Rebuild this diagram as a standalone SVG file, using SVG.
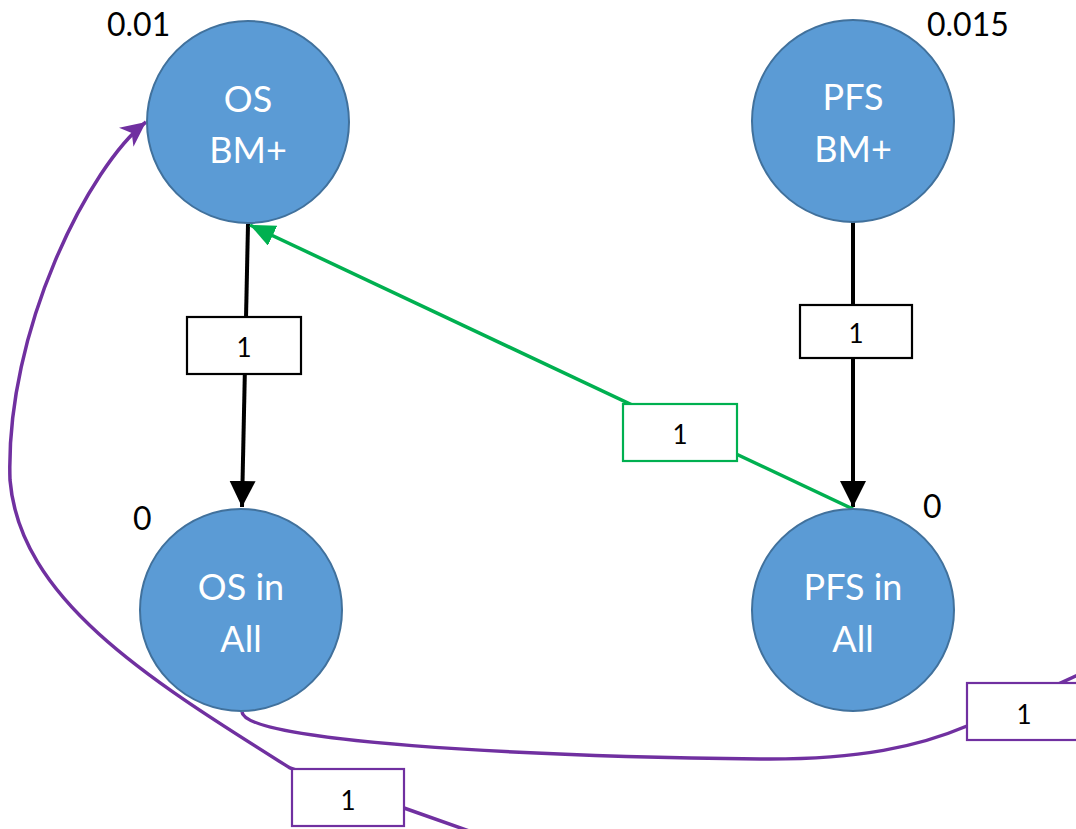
<svg xmlns="http://www.w3.org/2000/svg" width="1076" height="829" viewBox="0 0 1076 829">
<defs>
<style>
.node{fill:#5B9BD5;stroke:#41719C;stroke-width:2}
.nt{font-family:Lato,"Open Sans","Liberation Sans",sans-serif;font-size:36px;fill:#ffffff;text-anchor:middle}
.val{font-family:Lato,"Open Sans","Liberation Sans",sans-serif;font-size:32px;fill:#000000}
.lbl{font-family:Lato,"Open Sans","Liberation Sans",sans-serif;font-size:26px;fill:#000000;text-anchor:middle}
.box{fill:#ffffff;stroke-width:2.2}
.blk{stroke:#000000;stroke-width:4;fill:none}
.grn{stroke:#00B050;stroke-width:3.5;fill:none}
.pur{stroke:#7030A0;stroke-width:3.5;fill:none}
</style>
<marker id="ab" markerUnits="userSpaceOnUse" markerWidth="27" markerHeight="27" refX="26" refY="13" orient="auto">
<path d="M0,0 L26,13 L0,26 z" fill="#000000"/>
</marker>
<marker id="ag" markerUnits="userSpaceOnUse" markerWidth="26" markerHeight="24" refX="25" refY="11" orient="auto">
<path d="M0,0 L25,11 L0,22 z" fill="#00B050"/>
</marker>
<marker id="ap" markerUnits="userSpaceOnUse" markerWidth="26" markerHeight="26" refX="25" refY="12" orient="auto">
<path d="M0,0 L25,12 L0,24 L7,12 z" fill="#7030A0"/>
</marker>
</defs>
<rect width="1076" height="829" fill="#ffffff"/>

<g id="connectors">
<path class="blk" d="M248,224 L242,507" marker-end="url(#ab)"/>
<path class="blk" d="M853,222 L853,507" marker-end="url(#ab)"/>
<path class="grn" d="M853,509 L250,225" marker-end="url(#ag)"/>
<path class="pur" d="M242,712 C245,742 520,756 760,759 C860,760 920,746 967,726 L1080,674"/>
<path class="pur" d="M472,832 L404,808 L290,768 C150,680 20,600 10,480 C5,330 90,165 146,122" marker-end="url(#ap)"/>
</g>

<g id="label-os-bm-os-all">
<rect class="box" x="187" y="317" width="114" height="57" stroke="#000000"/>
<text class="lbl" x="244" y="357">1</text>
</g>
<g id="label-pfs-bm-pfs-all">
<rect class="box" x="800" y="305" width="112" height="53" stroke="#000000"/>
<text class="lbl" x="856" y="343">1</text>
</g>
<g id="label-pfs-all-os-bm">
<rect class="box" x="623" y="404" width="114" height="57" stroke="#00B050"/>
<text class="lbl" x="680" y="444">1</text>
</g>
<g id="label-os-all-out">
<rect class="box" x="967" y="683" width="114" height="57" stroke="#7030A0"/>
<text class="lbl" x="1024" y="724">1</text>
</g>
<g id="label-in-os-bm">
<rect class="box" x="292" y="769" width="112" height="57" stroke="#7030A0"/>
<text class="lbl" x="348" y="810">1</text>
</g>

<g id="node-os-bm">
<circle class="node" cx="248" cy="122" r="101"/>
<text class="nt" x="248" y="112">OS</text>
<text class="nt" x="248" y="163">BM+</text>
<text class="val" x="107" y="36">0.01</text>
</g>
<g id="node-pfs-bm">
<circle class="node" cx="853" cy="121" r="101"/>
<text class="nt" x="853" y="110">PFS</text>
<text class="nt" x="853" y="162">BM+</text>
<text class="val" x="927" y="36">0.015</text>
</g>
<g id="node-os-all">
<circle class="node" cx="241" cy="610" r="101"/>
<text class="nt" x="241" y="600">OS in</text>
<text class="nt" x="241" y="652">All</text>
<text class="val" x="133" y="530">0</text>
</g>
<g id="node-pfs-all">
<circle class="node" cx="853" cy="610" r="101"/>
<text class="nt" x="853" y="600">PFS in</text>
<text class="nt" x="853" y="652">All</text>
<text class="val" x="923" y="518">0</text>
</g>
</svg>
